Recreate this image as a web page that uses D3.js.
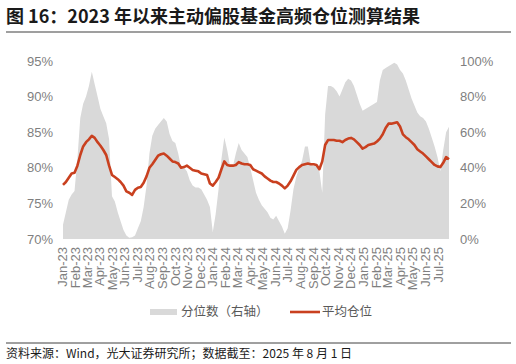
<!DOCTYPE html>
<html>
<head>
<meta charset="utf-8">
<script src="https://cdn.jsdelivr.net/npm/d3@7"></script>
<style>
  body { margin: 0; background: #fff; }
  svg { display: block; }
</style>
</head>
<body>
<svg id="chart" width="516" height="364"></svg>
<script>
// weekly readings (Tuesdays), 2023-01-03 .. 2025-07-29
var firstWeek = new Date(2023, 0, 3),
	lastWeek = new Date(2025, 6, 29);

// 平均仓位 (left axis, %)
var avgPosition = [
	77.6, 78.0, 78.6, 79.2, 79.3, 80.3, 81.8, 83.0, 83.6, 84.0,
	84.5, 84.2, 83.6, 83.1, 82.5, 81.8, 80.3, 79.0, 78.7, 78.4,
	78.0, 77.5, 76.7, 76.5, 76.2, 76.9, 77.2, 77.3, 77.9, 78.8,
	80.0, 80.5, 81.1, 81.7, 81.9, 82.0, 81.7, 81.3, 80.9, 80.8,
	80.6, 80.0, 80.1, 80.3, 80.0, 79.7, 79.6, 79.5, 79.2, 79.1,
	79.0, 77.8, 77.5, 78.0, 78.6, 79.8, 80.9, 80.4, 80.3, 80.3,
	80.4, 80.8, 80.6, 80.5, 80.5, 80.4, 79.8, 79.6, 79.4, 79.2,
	78.8, 78.5, 78.2, 78.0, 78.0, 77.8, 77.5, 77.1, 77.5, 78.1,
	78.9, 79.7, 80.1, 80.4, 80.5, 80.6, 80.5, 80.5, 80.4, 79.8,
	80.9, 83.2, 83.9, 83.9, 83.9, 83.8, 83.8, 83.6, 83.9, 84.1,
	84.2, 84.0, 83.6, 83.2, 82.7, 82.9, 83.2, 83.3, 83.4, 83.7,
	84.1, 84.7, 85.6, 86.2, 86.2, 86.3, 86.4, 85.8, 84.7, 84.3,
	84.0, 83.6, 83.2, 82.6, 82.3, 82.0, 81.6, 81.2, 80.8, 80.4,
	80.2, 80.1, 80.7, 81.5, 81.2
];

// 分位数（右轴）(right axis, %)
var percentile = [
	8, 15, 22, 25, 27, 45, 68, 76, 80, 86,
	94, 87, 80, 73, 69, 65, 56, 24, 21, 15,
	10, 5, 2, 0.7, 1, 2, 6, 10, 18, 30,
	48, 58, 62, 64, 66, 68, 66, 59, 55, 54,
	48, 40, 40, 38, 33, 30, 29, 29, 28, 25,
	22, 18, 4, 14, 28, 45, 57, 50, 41, 41,
	48, 54, 50, 48, 46, 40, 33, 26, 22, 19,
	17, 15, 12, 11, 13, 10, 7, 3, 6, 16,
	28, 35, 40, 44, 52, 52, 42, 41, 41, 38,
	26, 70, 86, 86, 85, 83, 80, 84, 88, 90,
	89, 86, 81, 76, 72, 73, 74, 75, 76, 77,
	89, 95, 96, 97, 98, 99, 98, 95, 93, 89,
	84, 79, 75, 71, 69, 68, 66, 62, 57, 52,
	46, 38, 50, 60, 63
];

var leftTicks = [70, 75, 80, 85, 90, 95],
	rightTicks = [0, 20, 40, 60, 80, 100];

var titleText = "图 16：2023 年以来主动偏股基金高频仓位测算结果",
	sourceText = "资料来源：Wind，光大证券研究所；数据截至：2025 年 8 月 1 日",
	legendNames = ["分位数（右轴）", "平均仓位"];

var margin = { top: 61, right: 67, bottom: 125, left: 63 },
	width = 516 - margin.left - margin.right,
	height = 364 - margin.top - margin.bottom;

var cjk = "'Noto Sans CJK SC', 'Noto Sans', sans-serif",
	latin = "'Liberation Sans', Arial, sans-serif",
	lineColor = "#c9401f",
	areaColor = "#d9d9d9",
	tickColor = "#7f7f7f";

var weeks = d3.timeTuesday.range(firstWeek, d3.timeDay.offset(lastWeek, 1));
var data = weeks.map(function (d, i) {
	return { date: d, pos: avgPosition[i], pct: percentile[i] };
});

var svg = d3.select("#chart");

// title + rules
svg.append("text")
	.attr("x", 6)
	.attr("y", 23)
	.style("font-family", cjk)
	.style("font-size", "18px")
	.style("font-weight", "bold")
	.style("fill", "#1a1a1a")
	.text(titleText);

svg.append("line")
	.attr("x1", 6).attr("x2", 511)
	.attr("y1", 32).attr("y2", 32)
	.style("stroke", "#404040")
	.style("stroke-width", 1.2);

svg.append("line")
	.attr("x1", 6).attr("x2", 511)
	.attr("y1", 343).attr("y2", 343)
	.style("stroke", "#404040")
	.style("stroke-width", 1);

svg.append("text")
	.attr("x", 6)
	.attr("y", 358)
	.style("font-family", cjk)
	.style("font-size", "12px")
	.style("fill", "#1a1a1a")
	.text(sourceText);

var g = svg.append("g")
	.attr("transform", "translate(" + margin.left + "," + margin.top + ")");

var x = d3.scaleTime().domain([firstWeek, lastWeek]).range([0, width]),
	yLeft = d3.scaleLinear().domain([70, 95]).range([height, 0]),
	yRight = d3.scaleLinear().domain([0, 100]).range([height, 0]);

// percentile area
var area = d3.area()
	.x(function (d) { return x(d.date); })
	.y0(height)
	.y1(function (d) { return yRight(d.pct); });

g.append("path")
	.datum(data)
	.attr("d", area)
	.style("fill", areaColor);

// average position line
var line = d3.line()
	.x(function (d) { return x(d.date); })
	.y(function (d) { return yLeft(d.pos); });

g.append("path")
	.datum(data)
	.attr("d", line)
	.style("fill", "none")
	.style("stroke", lineColor)
	.style("stroke-width", 2.6)
	.style("stroke-linejoin", "round");

// axes
var xAxis = g.append("g")
	.attr("transform", "translate(0," + height + ")")
	.call(d3.axisBottom(x)
		.tickValues(d3.timeMonth.range(new Date(2023, 0, 1), new Date(2025, 6, 2)))
		.tickFormat(d3.timeFormat("%b-%y"))
		.tickSize(0));

xAxis.selectAll("text")
	.attr("transform", "rotate(-90)")
	.attr("x", -8)
	.attr("y", 0)
	.attr("dy", "0.35em")
	.style("text-anchor", "end");

var leftAxis = g.append("g")
	.call(d3.axisLeft(yLeft)
		.tickValues(leftTicks)
		.tickFormat(function (d) { return d + "%"; })
		.tickSize(0)
		.tickPadding(10));

var rightAxis = g.append("g")
	.attr("transform", "translate(" + width + ",0)")
	.call(d3.axisRight(yRight)
		.tickValues(rightTicks)
		.tickFormat(function (d) { return d + "%"; })
		.tickSize(0)
		.tickPadding(11));

[xAxis, leftAxis, rightAxis].forEach(function (a) {
	a.select(".domain").remove();
	a.selectAll("text")
		.style("font-family", latin)
		.style("font-size", "13px")
		.style("fill", tickColor);
});

// legend
var legend = svg.append("g")
	.attr("transform", "translate(0,312)");

legend.append("rect")
	.attr("x", 150).attr("y", -3)
	.attr("width", 27).attr("height", 6)
	.style("fill", areaColor);

legend.append("text")
	.attr("x", 181).attr("y", 0)
	.attr("dy", "0.35em")
	.style("font-family", cjk)
	.style("font-size", "12.5px")
	.style("fill", "#595959")
	.text(legendNames[0]);

legend.append("line")
	.attr("x1", 290).attr("x2", 320)
	.attr("y1", 0).attr("y2", 0)
	.style("stroke", lineColor)
	.style("stroke-width", 2.6);

legend.append("text")
	.attr("x", 322).attr("y", 0)
	.attr("dy", "0.35em")
	.style("font-family", cjk)
	.style("font-size", "12.5px")
	.style("fill", "#595959")
	.text(legendNames[1]);
</script>
</body>
</html>
